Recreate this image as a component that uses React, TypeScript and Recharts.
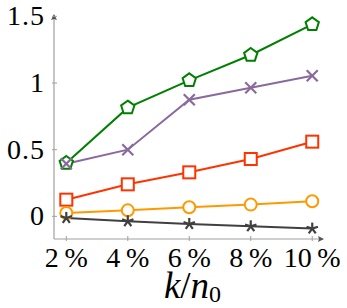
import React from 'react';
import { LineChart, Line, XAxis, YAxis, Label } from 'recharts';

// x positions, in percent of n0
const ratios = [2, 4, 6, 8, 10];
const xTicks = [2, 4, 6, 8, 10];
const yTicks = [0, 0.5, 1, 1.5];

const greenVals = [0.4, 0.815, 1.02, 1.21, 1.44];
const purpleVals = [0.395, 0.5, 0.875, 0.965, 1.055];
const redVals = [0.125, 0.24, 0.33, 0.43, 0.56];
const orangeVals = [0.025, 0.045, 0.068, 0.088, 0.113];
const darkVals = [-0.012, -0.037, -0.057, -0.075, -0.092];

const data = ratios.map((r, i) => ({
  r,
  green: greenVals[i],
  purple: purpleVals[i],
  red: redVals[i],
  orange: orangeVals[i],
  dark: darkVals[i],
}));

const FONT = "'Liberation Serif'";
const AXIS = '#a0a0a0';

const Pentagon = (props: any) => {
  const { cx, cy } = props;
  if (cx == null || cy == null) return null;
  const r = 7;
  const pts = [0, 1, 2, 3, 4]
    .map(k => {
      const a = -Math.PI / 2 + (k * 2 * Math.PI) / 5;
      return `${cx + r * Math.cos(a)},${cy + r * Math.sin(a)}`;
    })
    .join(' ');
  return <polygon key={`p${cx}`} points={pts} fill="#fff" stroke="#008000" strokeWidth={2} />;
};

const Cross = (props: any) => {
  const { cx, cy } = props;
  if (cx == null || cy == null) return null;
  const s = 5.5;
  return (
    <g key={`x${cx}`} stroke="#8a6a9c" strokeWidth={2.2}>
      <line x1={cx - s} y1={cy - s} x2={cx + s} y2={cy + s} />
      <line x1={cx - s} y1={cy + s} x2={cx + s} y2={cy - s} />
    </g>
  );
};

const Square = (props: any) => {
  const { cx, cy } = props;
  if (cx == null || cy == null) return null;
  const s = 6;
  return <rect key={`s${cx}`} x={cx - s} y={cy - s} width={2 * s} height={2 * s} fill="#fff" stroke="#ff3300" strokeWidth={2} />;
};

const Circle = (props: any) => {
  const { cx, cy } = props;
  if (cx == null || cy == null) return null;
  return <circle key={`c${cx}`} cx={cx} cy={cy} r={6} fill="#fff" stroke="#ff9900" strokeWidth={2} />;
};

const Star = (props: any) => {
  const { cx, cy } = props;
  if (cx == null || cy == null) return null;
  const r = 6;
  return (
    <g key={`st${cx}`} stroke="#404040" strokeWidth={2.2}>
      {[0, 1, 2, 3, 4].map(k => {
        const a = -Math.PI / 2 + (k * 2 * Math.PI) / 5;
        return <line key={k} x1={cx} y1={cy} x2={cx + r * Math.cos(a)} y2={cy + r * Math.sin(a)} />;
      })}
    </g>
  );
};

const YTick = (props: any) => {
  const { x, y, payload } = props;
  return (
    <g>
      <line x1={x - 2} y1={y} x2={x + 3} y2={y} stroke={AXIS} strokeWidth={1} />
      <text x={x - 9} y={y + 9} textAnchor="end" style={{ fontFamily: FONT, fontSize: 28, letterSpacing: 1 }} fill="#000">
        {String(payload.value)}
      </text>
    </g>
  );
};

const XTick = (props: any) => {
  const { x, y, payload } = props;
  return (
    <g>
      <line x1={x} y1={y - 3} x2={x} y2={y + 2} stroke={AXIS} strokeWidth={1} />
      <text x={x} y={y + 28} textAnchor="middle" style={{ fontFamily: FONT, fontSize: 28 }} fill="#000">
        {`${payload.value}\u2009%`}
      </text>
    </g>
  );
};

const XAxisDecor = (props: any) => {
  const vb = props.viewBox || {};
  const ex = vb.x + vb.width;
  const ey = vb.y;
  return (
    <g>
      <path d={`M${ex + 1},${ey} L${ex - 5},${ey - 3} L${ex - 4},${ey} L${ex - 5},${ey + 3} Z`} fill="#555" />
      <text x={vb.x + vb.width / 2 + 4} y={ey + 59} textAnchor="middle" style={{ fontFamily: FONT, fontSize: 37 }} fill="#000">
        <tspan fontStyle="italic">k</tspan>
        <tspan>/</tspan>
        <tspan fontStyle="italic">n</tspan>
        <tspan style={{ fontSize: 24 }} dy={4}>0</tspan>
      </text>
    </g>
  );
};

const YAxisDecor = (props: any) => {
  const vb = props.viewBox || {};
  const ex = vb.x + vb.width;
  const ey = vb.y;
  return <path d={`M${ex},${ey - 1} L${ex - 3},${ey + 5} L${ex},${ey + 4} L${ex + 3},${ey + 5} Z`} fill="#555" />;
};

export default function App() {
  return (
    <div style={{ position: 'absolute', left: 0, top: 0, background: '#fff' }}>
      <LineChart width={347} height={308} data={data} margin={{ top: 15, right: 24, bottom: 0, left: 0 }}>
        <XAxis
          dataKey="r"
          type="number"
          domain={[1.6, 10.35]}
          ticks={xTicks}
          tick={<XTick />}
          tickLine={false}
          tickSize={0}
          tickMargin={0}
          height={69}
          stroke={AXIS}
          axisLine={{ stroke: AXIS, strokeWidth: 1.2 }}
          allowDataOverflow
        >
          <Label content={<XAxisDecor />} />
        </XAxis>
        <YAxis
          type="number"
          domain={[-0.17, 1.51]}
          ticks={yTicks}
          tick={<YTick />}
          tickLine={false}
          tickSize={0}
          tickMargin={0}
          width={54}
          axisLine={{ stroke: AXIS, strokeWidth: 1.2 }}
          allowDataOverflow
        >
          <Label content={<YAxisDecor />} />
        </YAxis>
        <Line dataKey="green" stroke="#008000" strokeWidth={2} dot={<Pentagon />} isAnimationActive={false} />
        <Line dataKey="red" stroke="#ff3300" strokeWidth={2} dot={<Square />} isAnimationActive={false} />
        <Line dataKey="orange" stroke="#ff9900" strokeWidth={2} dot={<Circle />} isAnimationActive={false} />
        <Line dataKey="purple" stroke="#8a6a9c" strokeWidth={2} dot={<Cross />} isAnimationActive={false} />
        <Line dataKey="dark" stroke="#404040" strokeWidth={2} dot={<Star />} isAnimationActive={false} />
      </LineChart>
    </div>
  );
}
